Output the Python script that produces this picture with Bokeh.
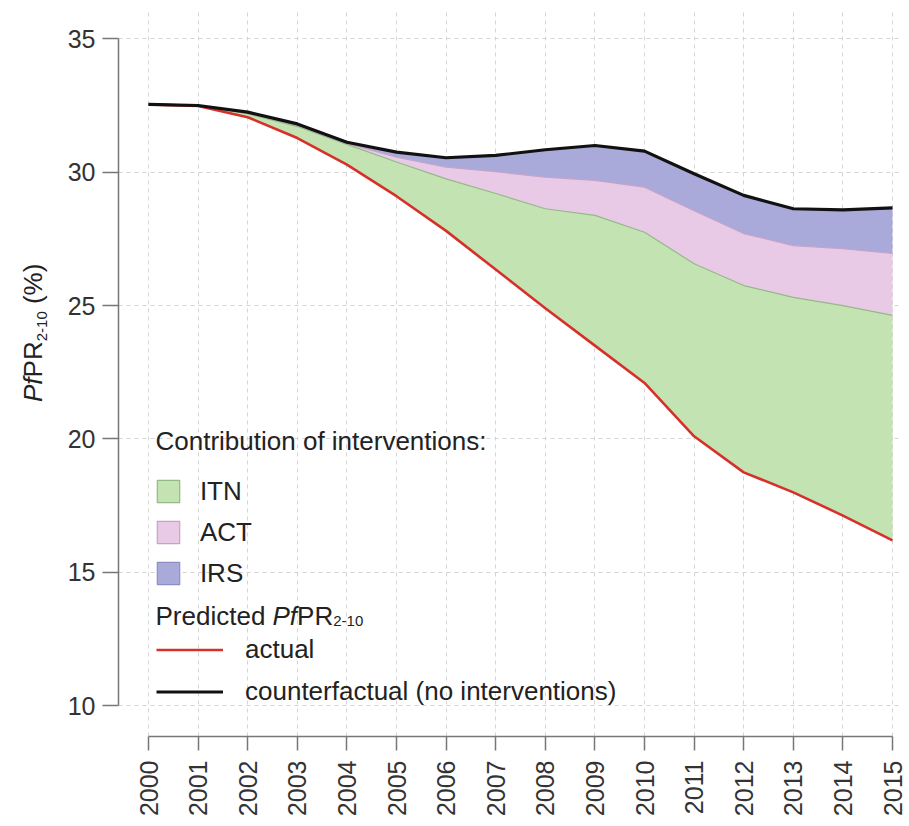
import math
from bokeh.plotting import figure
from bokeh.models import Range1d, FixedTicker, Label, Legend, LegendItem, Div
from bokeh.layouts import row
from bokeh.embed import file_html
from bokeh.resources import INLINE

# ---------------- data ----------------
years = list(range(2000, 2016))
year_labels = [str(y) for y in years]
y_ticks = [10, 15, 20, 25, 30, 35]

# predicted PfPR2-10 with all interventions (actual)
actual = [32.54, 32.48, 32.06, 31.28, 30.28, 29.10, 27.80, 26.35,
          24.90, 23.50, 22.10, 20.10, 18.75, 18.00, 17.13, 16.20]
# upper edge of the ITN contribution band
with_itn = [32.54, 32.49, 32.19, 31.71, 31.04, 30.38, 29.75, 29.20,
            28.63, 28.38, 27.75, 26.57, 25.75, 25.31, 25.00, 24.63]
# upper edge of the ACT contribution band
with_act = [32.54, 32.50, 32.22, 31.76, 31.08, 30.56, 30.19, 30.02,
            29.81, 29.69, 29.44, 28.56, 27.70, 27.25, 27.13, 26.96]
# counterfactual (no interventions) = upper edge of IRS band
counterfactual = [32.54, 32.50, 32.25, 31.81, 31.12, 30.75, 30.54, 30.63,
                  30.84, 31.00, 30.79, 29.94, 29.13, 28.63, 28.59, 28.66]

band_names = ["ITN", "ACT", "IRS"]
band_fill = ["#c4e3b3", "#e8c9e6", "#a9a9da"]
band_line = ["#93b985", "#c3a3c8", "#8e8ec4"]

FONT = "Liberation Sans"
TXT = "#222222"

# ---------------- layout constants ----------------
TOTAL_W, H = 906, 824
DIV_W = 50
W = TOTAL_W - DIV_W

p = figure(width=W, height=H, output_backend="svg", toolbar_location=None,
           x_range=Range1d(1999.395, 2015.141), y_range=Range1d(8.849, 36.06),
           min_border_left=118 - DIV_W, min_border_right=7, min_border_top=10,
           min_border_bottom=H - 736)
p.outline_line_color = None
p.background_fill_color = "white"
p.border_fill_color = "white"

# frame-relative helpers for screen-unit annotations (page px -> frame px)
FL, FB = 118, 736
BASE_FIX = 9  # empirical baseline correction
def sx(px):
    return px - FL
def sy(py):
    return FB - py

# bands
lower = [actual, with_itn, with_act]
upper = [with_itn, with_act, counterfactual]
for lo, hi, fc in zip(lower, upper, band_fill):
    p.varea(x=years, y1=lo, y2=hi, fill_color=fc, fill_alpha=1.0)
for hi, lc in zip([with_itn, with_act], band_line[:2]):
    p.line(years, hi, line_color=lc, line_width=1.2)

# legend proxies for the band swatches (not drawn in the plot)
nan = float("nan")
proxies = []
for fc, lc in zip(band_fill, band_line):
    proxies.append(p.quad(left=[nan], right=[nan], top=[nan], bottom=[nan],
                          fill_color=fc, line_color=lc, line_width=1.2))

r_act = p.line(years, actual, line_color="#d7302a", line_width=2.6)
r_cf = p.line(years, counterfactual, line_color="#111111", line_width=3.2)

# axes
p.xaxis.ticker = FixedTicker(ticks=years)
p.xaxis.major_label_overrides = {y: s for y, s in zip(years, year_labels)}
p.xaxis.bounds = (years[0], years[-1])
p.xaxis.major_label_orientation = math.pi / 2
p.yaxis.ticker = FixedTicker(ticks=y_ticks)
p.yaxis.bounds = (y_ticks[0], y_ticks[-1])
for ax in (p.xaxis, p.yaxis):
    ax.axis_line_color = "#777777"
    ax.axis_line_width = 1.5
    ax.major_tick_line_color = "#777777"
    ax.major_tick_line_width = 1.5
    ax.major_tick_in = 0
    ax.minor_tick_line_color = None
    ax.major_label_text_font = FONT
    ax.major_label_text_font_size = "25px"
    ax.major_label_text_color = "#333333"
p.xaxis.major_tick_out = 14
p.xaxis.major_label_standoff = 10
p.yaxis.major_tick_out = 16
p.yaxis.major_label_standoff = 7

p.xgrid.ticker = FixedTicker(ticks=years)
p.ygrid.ticker = FixedTicker(ticks=y_ticks)
for g in (p.xgrid, p.ygrid):
    g.grid_line_color = "#d4d4d4"
    g.grid_line_dash = "4 4"
    g.grid_line_width = 1

# legends
ITEM_H = 31
SP1, SP2 = 10, 11
leg1 = Legend(items=[LegendItem(label=n, renderers=[r]) for n, r in zip(band_names, proxies)],
              location=(sx(153.9), sy(475.7 + 3 * ITEM_H + 2 * SP1)), orientation="vertical",
              glyph_width=28, glyph_height=28, label_height=ITEM_H, spacing=SP1,
              label_standoff=18, padding=0, margin=0,
              border_line_color=None, background_fill_alpha=0,
              label_text_font=FONT, label_text_font_size="26px",
              label_text_color=TXT)
leg2 = Legend(items=[LegendItem(label="actual", renderers=[r_act]),
                     LegendItem(label="counterfactual (no interventions)", renderers=[r_cf])],
              location=(sx(156), sy(633.8 + 2 * ITEM_H + SP2)), orientation="vertical",
              glyph_width=67, glyph_height=ITEM_H, label_height=ITEM_H, spacing=SP2,
              label_standoff=22, padding=0, margin=0,
              border_line_color=None, background_fill_alpha=0,
              label_text_font=FONT, label_text_font_size="26px",
              label_text_color=TXT)
p.add_layout(leg1, "center")
p.add_layout(leg2, "center")

def lab(x, y, text, size="26px", style="normal"):
    p.add_layout(Label(x=x, y=y + BASE_FIX, x_units="screen", y_units="screen", text=text,
                       text_font=FONT, text_font_size=size, text_font_style=style,
                       text_color=TXT, text_align="left", text_baseline="alphabetic"))

# header: Contribution of interventions:
lab(sx(155), sy(449), "Contribution of interventions:")
# header: Predicted PfPR2-10
lab(sx(155), sy(624), "Predicted ")
lab(sx(272), sy(624), "Pf", style="italic")
lab(sx(296.6), sy(624), "PR")
lab(sx(332.7), sy(629), "2-10", size="15px")

# y-axis title (rotated, mixed styles) in a narrow Div left of the figure
ylab_html = (
    '<div style="position:relative; left:20px; top:402px; transform:rotate(-90deg); '
    'transform-origin:0 0; white-space:nowrap; font-family:\'Liberation Sans\'; '
    'font-size:26px; line-height:26px; color:#222222;">'
    '<i>Pf</i>PR<span style="font-size:15px; position:relative; top:5px;">2-10</span> (%)'
    '</div>'
)
ydiv = Div(text=ylab_html, width=DIV_W, height=H, margin=0)

layout = row(ydiv, p, spacing=0)
open("out.html", "w").write(file_html(layout, INLINE))
